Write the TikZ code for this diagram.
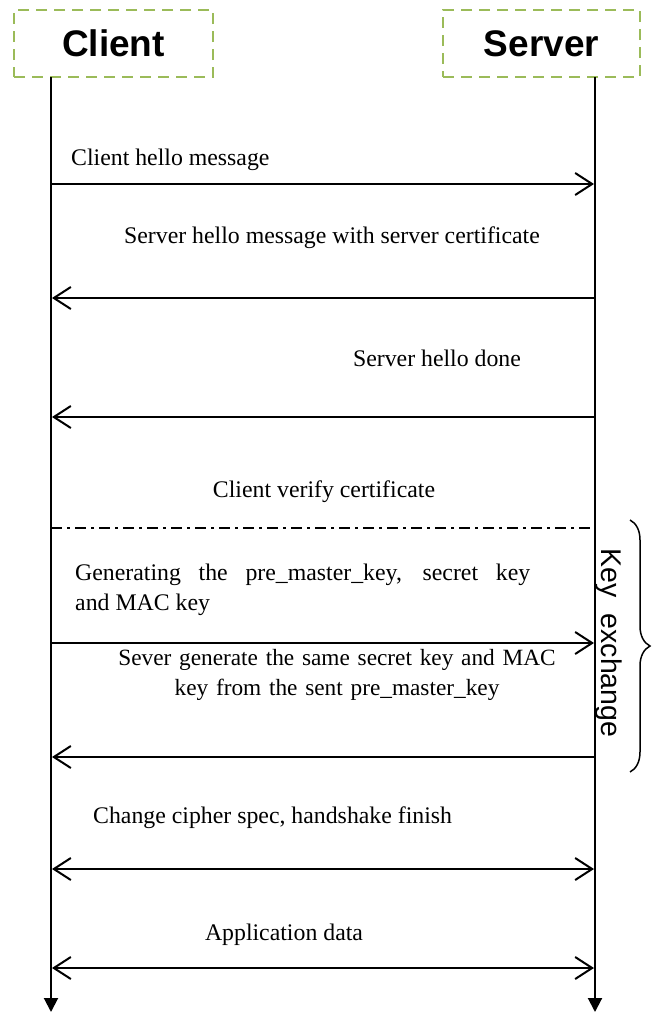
\documentclass[tikz,border=0pt]{standalone}
\usepackage{fontspec}
\setmainfont{Liberation Serif}
\newfontfamily\arialfont{Liberation Sans}
\usetikzlibrary{arrows.meta,decorations.pathreplacing}
\definecolor{boxgreen}{HTML}{9BBB59}
\tikzset{
  actorbox/.style={draw=boxgreen, line width=2.2pt, dash pattern=on 11pt off 7pt, minimum height=67pt, font=\arialfont\bfseries\fontsize{37}{40}\selectfont, inner sep=0pt},
  lifeline/.style={line width=2pt, -{Triangle[length=14pt,width=14pt]}},
  barb/.tip={Straight Barb[length=17pt,width=22pt,line width=2pt]},
  msg/.style={line width=2pt, -barb},
  dmsg/.style={line width=2pt, barb-barb},
  lbl/.style={font=\fontsize{23.8}{30}\selectfont, inner sep=0pt},
  sep/.style={line width=2pt, dash pattern=on 11pt off 5pt on 3pt off 5pt}
}
\begin{document}
\begin{tikzpicture}[x=1pt,y=-1pt]
\useasboundingbox (0,0) rectangle (654,1012);
% actor boxes
\node[actorbox, minimum width=199pt] (client) at (113.5,43.5) {Client};
\node[actorbox, minimum width=197pt] (server) at (541.5,43.5) {Server};
% lifelines
\coordinate (ctop) at (51,77);
\coordinate (cbot) at (51,1012);
\coordinate (stop) at (595,77);
\coordinate (sbot) at (595,1012);
\draw[lifeline] (ctop) -- (cbot);
\draw[lifeline] (stop) -- (sbot);
% message coordinates
\coordinate (c1) at (51,184);  \coordinate (s1) at (594,184);
\coordinate (c2) at (52,298);  \coordinate (s2) at (595,298);
\coordinate (c3) at (52,417);  \coordinate (s3) at (595,417);
\coordinate (c4) at (51,528);  \coordinate (s4) at (595,528);
\coordinate (c5) at (51,643);  \coordinate (s5) at (594,643);
\coordinate (c6) at (52,757);  \coordinate (s6) at (595,757);
\coordinate (c7) at (52,869);  \coordinate (s7) at (594,869);
\coordinate (c8) at (52,968);  \coordinate (s8) at (594,968);
% labels
\node[lbl, anchor=west] (l1) at (71,160) {Client hello message};
\node[lbl] (l2) at (332,238) {Server hello message with server certificate};
\node[lbl] (l3) at (437,358) {Server hello done};
\node[lbl] (l4) at (324,492) {Client verify certificate};
\node[lbl, anchor=north west, text width=455pt, align=justify] (l5) at (75,564) {Generating the pre\_master\_key, secret key\linebreak and MAC key};
\node[lbl, font=\fontsize{23.3}{30}\selectfont, text width=460pt, align=center, anchor=north] (l6) at (337,649) {Sever generate the same secret key and MAC\\key from the sent pre\_master\_key};
\node[lbl, anchor=west] (l7) at (93,818) {Change cipher spec, handshake finish};
\node[lbl] (l8) at (284,935) {Application data};
% arrows
\draw[msg] (c1) -- (s1);
\draw[msg] (s2) -- (c2);
\draw[msg] (s3) -- (c3);
\draw[sep] (c4) -- (s4);
\draw[msg] (c5) -- (s5);
\draw[msg] (s6) -- (c6);
\draw[dmsg] (c7) -- (s7);
\draw[dmsg] (c8) -- (s8);
% brace
\coordinate (btop) at (630,520);
\coordinate (bbot) at (630,772);
\draw[line width=1.5pt, decorate, decoration={brace, amplitude=20pt}] (btop) -- (bbot);
\node[font=\arialfont\fontsize{28.5}{30}\selectfont, rotate=-90, inner sep=0pt] (kx) at (609,643) {Key\ \ exchange};
\end{tikzpicture}
\end{document}
